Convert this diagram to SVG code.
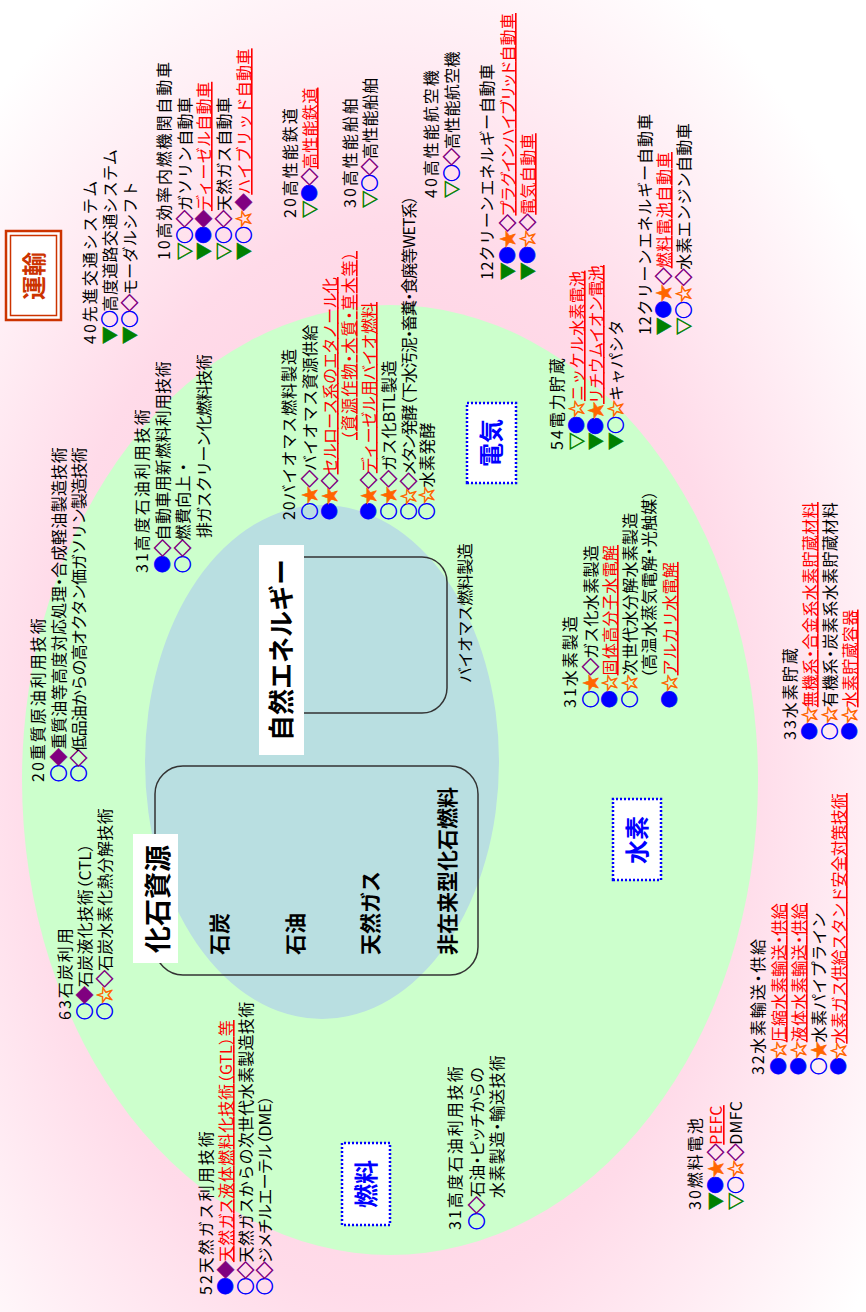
<svg xmlns="http://www.w3.org/2000/svg" width="866" height="1312" viewBox="0 0 866 1312">
<defs>
<radialGradient id="bg" cx="0.42" cy="0.45" r="0.68">
<stop offset="0" stop-color="#ffc6db"/>
<stop offset="0.6" stop-color="#ffdbe9"/>
<stop offset="1" stop-color="#ffffff"/>
</radialGradient>
<style>
.t{font-family:"Noto Sans CJK JP","Noto Sans CJK SC",sans-serif;font-size:16px;letter-spacing:0.3px;fill:#000}
.h{letter-spacing:2px}
.pa{font-feature-settings:"palt"}
.S{font-size:17.5px;letter-spacing:-1.2px;stroke-width:0.6px}
.G{fill:#008000;stroke:#008000}.B{fill:#0000ff;stroke:#0000ff}.P{fill:#800080;stroke:#800080}.O{fill:#ff6600;stroke:#ff6600}
.R{fill:#ff0000;text-decoration:underline}
.bd{font-family:"Noto Sans CJK JP","Noto Sans CJK SC",sans-serif;font-weight:bold;fill:#000}
.dot{fill:#fff;stroke:#0000ff;stroke-width:2.5;stroke-dasharray:2 2}
.lab{font-family:"Noto Sans CJK JP","Noto Sans CJK SC",sans-serif;font-weight:bold;font-size:24px;fill:#0000ff;text-anchor:middle}
.frame{fill:none;stroke:#333;stroke-width:1.5}
</style>
</defs>
<g transform="translate(0,1312) rotate(-90)">
<rect x="0" y="0" width="1312" height="866" fill="url(#bg)"/>
<ellipse cx="532" cy="390" rx="475" ry="368" fill="#ccffcc"/>
<ellipse cx="550" cy="322" rx="257" ry="177" fill="#b9dfe1"/>

<g id="fossil">
<rect class="frame" x="337" y="155" width="209" height="323" rx="28"/>
<rect x="349" y="133" width="129" height="45" fill="#fff"/>
<text class="bd" x="413" y="168" font-size="27" text-anchor="middle">化石資源</text>
<text class="bd" x="357" y="227" font-size="21">石炭</text>
<text class="bd" x="357" y="303" font-size="21">石油</text>
<text class="bd" x="357" y="378" font-size="21">天然ガス</text>
<text class="bd" x="357" y="455" font-size="21">非在来型化石燃料</text>
</g>

<g id="natural">
<rect class="frame" x="599" y="265" width="156" height="182" rx="25"/>
<rect x="557" y="259" width="210" height="45" fill="#fff"/>
<text class="bd" x="662" y="291" font-size="26" text-anchor="middle">自然エネルギー</text>
<text class="t" x="629" y="471" textLength="140">バイオマス燃料製造</text>
</g>

<g id="denki"><rect class="dot" x="829" y="467" width="80" height="49"/><text class="lab" x="869" y="500">電気</text></g>
<g id="suiso"><rect class="dot" x="432" y="613" width="81" height="48"/><text class="lab" x="472" y="646">水素</text></g>
<g id="nenryo"><rect class="dot" x="87" y="342" width="82" height="48"/><text class="lab" x="128" y="375">燃料</text></g>

<g id="unyu">
<rect x="992" y="6" width="89" height="55" fill="#fff" stroke="#cc3300" stroke-width="2.5"/>
<rect x="996.5" y="10.5" width="80" height="46" fill="none" stroke="#cc3300" stroke-width="1.5"/>
<text x="1036" y="43" font-family="Noto Sans CJK JP, sans-serif" font-weight="bold" font-size="24" fill="#cc3300" text-anchor="middle">運輸</text>
</g>

<g id="connectors"/>

<g id="blockA">
<text class="t h" x="968" y="96">40先進交通システム</text>
<text class="t" x="968" y="116"><tspan class="S G">▼</tspan><tspan class="S B">○</tspan>高度道路交通システム</text>
<text class="t" x="968" y="136"><tspan class="S G">▼</tspan><tspan class="S B">○</tspan><tspan class="S P">◇</tspan>モーダルシフト</text>
</g>

<g id="blockB">
<text class="t h" x="1052" y="170" textLength="200">10高効率内燃機関自動車</text>
<text class="t" x="1052" y="191"><tspan class="S G">▽</tspan><tspan class="S B">○</tspan><tspan class="S P">◇</tspan>ガソリン自動車</text>
<text class="t" x="1052" y="210"><tspan class="S G">▼</tspan><tspan class="S B">●</tspan><tspan class="S P">◆</tspan><tspan class="R">ディーゼル自動車</tspan></text>
<text class="t" x="1052" y="230"><tspan class="S G">▽</tspan><tspan class="S B">○</tspan><tspan class="S P">◇</tspan>天然ガス自動車</text>
<text class="t" x="1052" y="250"><tspan class="S G">▼</tspan><tspan class="S B">○</tspan><tspan class="S O">☆</tspan><tspan class="S P">◆</tspan><tspan class="R">ハイブリッド自動車</tspan></text>
</g>

<g id="blockC">
<text class="t h" x="1094" y="296">20高性能鉄道</text>
<text class="t" x="1094" y="316"><tspan class="S G">▽</tspan><tspan class="S B">●</tspan><tspan class="S P">◇</tspan><tspan class="R">高性能鉄道</tspan></text>
</g>

<g id="blockD">
<text class="t h" x="1104" y="356">30高性能船舶</text>
<text class="t" x="1104" y="376"><tspan class="S G">▽</tspan><tspan class="S B">○</tspan><tspan class="S P">◇</tspan>高性能船舶</text>
</g>

<g id="blockE">
<text class="t h" x="1114" y="437">40高性能航空機</text>
<text class="t" x="1114" y="458"><tspan class="S G">▽</tspan><tspan class="S B">○</tspan><tspan class="S P">◇</tspan>高性能航空機</text>
</g>

<g id="blockF">
<text class="t h" x="1032" y="493" textLength="218">12クリーンエネルギー自動車</text>
<text class="t pa" x="1032" y="514" textLength="267"><tspan class="S G">▼</tspan><tspan class="S B">●</tspan><tspan class="S O">★</tspan><tspan class="S P">◇</tspan><tspan class="R">プラグインハイブリッド自動車</tspan></text>
<text class="t" x="1032" y="534"><tspan class="S G">▼</tspan><tspan class="S B">●</tspan><tspan class="S O">☆</tspan><tspan class="S P">◇</tspan><tspan class="R">電気自動車</tspan></text>
</g>

<g id="blockG">
<text class="t h" x="977" y="651" textLength="223">12クリーンエネルギー自動車</text>
<text class="t" x="977" y="670" textLength="183"><tspan class="S G">▼</tspan><tspan class="S B">●</tspan><tspan class="S O">★</tspan><tspan class="S P">◇</tspan><tspan class="R">燃料電池自動車</tspan></text>
<text class="t" x="977" y="690"><tspan class="S G">▽</tspan><tspan class="S B">○</tspan><tspan class="S O">☆</tspan><tspan class="S P">◇</tspan>水素エンジン自動車</text>
</g>

<g id="blockH">
<text class="t h" x="739" y="148">31高度石油利用技術</text>
<text class="t" x="739" y="169"><tspan class="S B">●</tspan><tspan class="S P">◇</tspan>自動車用新燃料利用技術</text>
<text class="t" x="739" y="189"><tspan class="S B">○</tspan><tspan class="S P">◇</tspan>燃費向上・</text>
<text class="t" x="774" y="210" textLength="184">排ガスクリーン化燃料技術</text>
</g>

<g id="blockI">
<text class="t h" x="530" y="44">20重質原油利用技術</text>
<text class="t pa" x="530" y="65" textLength="335"><tspan class="S B">○</tspan><tspan class="S P">◆</tspan>重質油等高度対応処理・合成軽油製造技術</text>
<text class="t" x="530" y="85" textLength="335"><tspan class="S B">○</tspan><tspan class="S P">◇</tspan>低品油からの高オクタン価ガソリン製造技術</text>
</g>

<g id="blockJ">
<text class="t h" x="292" y="71">63石炭利用</text>
<text class="t pa" x="292" y="91" textLength="177"><tspan class="S B">○</tspan><tspan class="S P">◆</tspan>石炭液化技術（CTL）</text>
<text class="t" x="292" y="111"><tspan class="S B">○</tspan><tspan class="S O">☆</tspan><tspan class="S P">◇</tspan>石炭水素化熱分解技術</text>
</g>

<g id="blockK">
<text class="t h" x="17" y="212">52天然ガス利用技術</text>
<text class="t pa" x="17" y="232" textLength="275"><tspan class="S B">●</tspan><tspan class="S P">◆</tspan><tspan class="R">天然ガス液体燃料化技術（GTL）等</tspan></text>
<text class="t" x="17" y="252"><tspan class="S B">○</tspan><tspan class="S P">◇</tspan>天然ガスからの次世代水素製造技術</text>
<text class="t pa" x="17" y="271" textLength="200"><tspan class="S B">○</tspan><tspan class="S P">◇</tspan>ジメチルエーテル（DME）</text>
</g>

<g id="blockL">
<text class="t h" x="82" y="461">31高度石油利用技術</text>
<text class="t pa" x="82" y="483" textLength="163"><tspan class="S B">○</tspan><tspan class="S P">◇</tspan>石油・ピッチからの</text>
<text class="t pa" x="114" y="503" textLength="143">水素製造・輸送技術</text>
</g>

<g id="blockM">
<text class="t h" x="102" y="701">30燃料電池</text>
<text class="t" x="102" y="722"><tspan class="S G">▼</tspan><tspan class="S B">●</tspan><tspan class="S O">★</tspan><tspan class="S P">◇</tspan><tspan class="R">PEFC</tspan></text>
<text class="t" x="102" y="742"><tspan class="S G">▽</tspan><tspan class="S B">○</tspan><tspan class="S O">☆</tspan><tspan class="S P">◇</tspan>DMFC</text>
</g>

<g id="blockN">
<text class="t h pa" x="237" y="764" textLength="138">32水素輸送・供給</text>
<text class="t pa" x="237" y="785" textLength="172"><tspan class="S B">●</tspan><tspan class="S O">☆</tspan><tspan class="R">圧縮水素輸送・供給</tspan></text>
<text class="t pa" x="237" y="805" textLength="172"><tspan class="S B">●</tspan><tspan class="S O">☆</tspan><tspan class="R">液体水素輸送・供給</tspan></text>
<text class="t" x="237" y="825"><tspan class="S B">○</tspan><tspan class="S O">★</tspan>水素パイプライン</text>
<text class="t" x="237" y="845" textLength="282"><tspan class="S B">●</tspan><tspan class="S O">☆</tspan><tspan class="R">水素ガス供給スタンド安全対策技術</tspan></text>
</g>

<g id="blockO">
<text class="t h" x="572" y="796">33水素貯蔵</text>
<text class="t pa" x="572" y="816" textLength="238"><tspan class="S B">●</tspan><tspan class="S O">☆</tspan><tspan class="R">無機系・合金系水素貯蔵材料</tspan></text>
<text class="t pa" x="572" y="836" textLength="238"><tspan class="S B">○</tspan><tspan class="S O">☆</tspan>有機系・炭素系水素貯蔵材料</text>
<text class="t" x="572" y="856"><tspan class="S B">●</tspan><tspan class="S O">☆</tspan><tspan class="R">水素貯蔵容器</tspan></text>
</g>

<g id="blockP">
<text class="t h" x="604" y="576">31水素製造</text>
<text class="t" x="604" y="597"><tspan class="S B">○</tspan><tspan class="S O">★</tspan><tspan class="S P">◇</tspan>ガス化水素製造</text>
<text class="t" x="604" y="616"><tspan class="S B">●</tspan><tspan class="S O">☆</tspan><tspan class="R">固体高分子水電解</tspan></text>
<text class="t" x="604" y="636"><tspan class="S B">○</tspan><tspan class="S O">☆</tspan>次世代水分解水素製造</text>
<text class="t pa" x="634" y="655" textLength="188">（高温水蒸気電解・光触媒）</text>
<text class="t" x="604" y="676"><tspan class="S B">●</tspan><tspan class="S O">☆</tspan><tspan class="R">アルカリ水電解</tspan></text>
</g>

<g id="blockQ">
<text class="t h" x="862" y="563">54電力貯蔵</text>
<text class="t" x="862" y="583"><tspan class="S G">▽</tspan><tspan class="S B">●</tspan><tspan class="S O">☆</tspan><tspan class="R">ニッケル水素電池</tspan></text>
<text class="t" x="862" y="602" textLength="185"><tspan class="S G">▼</tspan><tspan class="S B">●</tspan><tspan class="S O">★</tspan><tspan class="R">リチウムイオン電池</tspan></text>
<text class="t" x="862" y="622"><tspan class="S G">▼</tspan><tspan class="S B">○</tspan><tspan class="S O">☆</tspan>キャパシタ</text>
</g>

<g id="blockR">
<text class="t h" x="792" y="295" textLength="173">20バイオマス燃料製造</text>
<text class="t" x="792" y="316"><tspan class="S B">○</tspan><tspan class="S O">★</tspan><tspan class="S P">◇</tspan>バイオマス資源供給</text>
<text class="t" x="792" y="336" textLength="243"><tspan class="S B">●</tspan><tspan class="S O">★</tspan><tspan class="S P">◇</tspan><tspan class="R">セルロース系のエタノール化</tspan></text>
<text class="t pa" x="872" y="355" textLength="189"><tspan class="R">（資源作物・木質・草木等）</tspan></text>
<text class="t" x="792" y="375" textLength="218"><tspan class="S B">●</tspan><tspan class="S O">★</tspan><tspan class="S P">◇</tspan><tspan class="R">ディーゼル用バイオ燃料</tspan></text>
<text class="t" x="792" y="395"><tspan class="S B">○</tspan><tspan class="S O">★</tspan><tspan class="S P">◇</tspan>ガス化BTL製造</text>
<text class="t pa" x="792" y="415" textLength="325"><tspan class="S B">○</tspan><tspan class="S O">☆</tspan><tspan class="S P">◇</tspan>メタン発酵（下水汚泥・畜糞・食廃等WET系）</text>
<text class="t" x="792" y="433"><tspan class="S B">○</tspan><tspan class="S O">☆</tspan>水素発酵</text>
</g>
</g>
</svg>
